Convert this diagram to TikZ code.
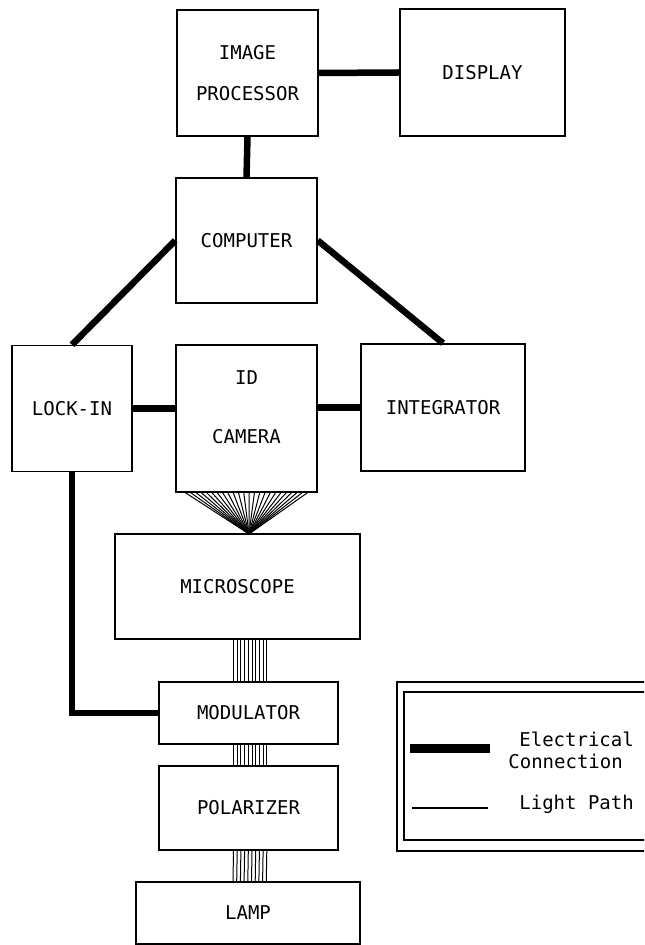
\documentclass[tikz,border=0pt]{standalone}
\usepackage{fontspec}
\setmonofont{DejaVu Sans Mono}
\usetikzlibrary{calc,positioning}

\begin{document}
\begin{tikzpicture}[x=0.5pt,y=-0.5pt]
		\tikzstyle{Block}	= [rectangle, draw, line width=0.75pt, inner sep=0pt, font=\ttfamily\fontsize{9.5}{11}\selectfont, align=center]
		\tikzstyle{Label}	= [inner sep=0pt, font=\ttfamily\fontsize{9.5}{11}\selectfont, align=center]
		\tikzstyle{Wire}	= [line width=3.25pt]
		\tikzstyle{Ray}		= [line width=0.5pt]

		\clip (0,0) rectangle (644,945);

		\node (improc) at (247.5,73) [Block, minimum width=70.5pt, minimum height=63pt] {IMAGE\\[9.5pt]PROCESSOR};
		\node (display) at (482.5,72.5) [Block, minimum width=82.5pt, minimum height=63.5pt] {DISPLAY};
		\node (computer) at (246.5,240.5) [Block, minimum width=70.5pt, minimum height=62.5pt] {COMPUTER};
		\node (lockin) at (72,408.5) [Block, minimum width=60pt, minimum height=63pt] {LOCK-IN};
		\node (camera) at (246.5,418.5) [Block, minimum width=70.5pt, minimum height=73.5pt] {};
		\node (cameraText) at (246.5,407.5) [Label] {ID\\[18.5pt]CAMERA};
		\node (integrator) at (443,407.5) [Block, minimum width=82pt, minimum height=63.5pt] {INTEGRATOR};
		\node (microscope) at (237.5,586.5) [Block, minimum width=122.5pt, minimum height=52.5pt] {MICROSCOPE};
		\node (modulator) at (248.5,713) [Block, minimum width=89.5pt, minimum height=31pt] {MODULATOR};
		\node (polarizer) at (248.5,808) [Block, minimum width=89.5pt, minimum height=42pt] {POLARIZER};
		\node (lamp) at (248,913) [Block, minimum width=112pt, minimum height=31pt] {LAMP};

		% electrical connections
		\draw [-] (improc.east) to (display.west) [Wire];
		\draw [-] (improc.south) to (computer.north) [Wire];
		\draw [-] (computer.west) to (lockin.north) [Wire];
		\draw [-] (computer.east) to (integrator.north) [Wire];
		\draw [-] (lockin.east) to (lockin.east -| camera.west) [Wire];
		\draw [-] (camera.east |- integrator.west) to (integrator.west) [Wire];
		\draw [-] (lockin.south) |- (modulator.west) [Wire];

		% light path
		\coordinate (focus) at (249,534);
		\foreach \i [evaluate=\i as \x using -61+5.3*\i] in {0,...,23}
			\draw [-] ($(camera.south)+(\x,0)$) to (focus) [Ray];
		\foreach \i [evaluate=\i as \x using -15+3.7*\i] in {0,...,9} {
			\draw [-] ($(microscope.south -| modulator.north)+(\x,0)$) to ($(modulator.north)+(\x,0)$) [Ray];
			\draw [-] ($(modulator.south)+(\x,0)$) to ($(polarizer.north)+(\x,0)$) [Ray];
			\draw [-] ($(polarizer.south)+(\x,0)$) to ($(lamp.north)+(\x,0)$) [Ray];
		}

		% legend
		\draw [line width=0.75pt] (397,682) rectangle (660,851);
		\draw [line width=0.75pt] (404,692) rectangle (660,840);
		\coordinate (elecA) at (410,748);
		\coordinate (elecB) at (490,748);
		\coordinate (rayA) at (412,808);
		\coordinate (rayB) at (488,808);
		\draw [-] (elecA) to (elecB) [line width=4.5pt];
		\draw [-] (rayA) to (rayB) [line width=0.75pt];
		\node (elecText) at (519,746) [Label, anchor=base west] {Electrical};
		\node (connText) at (508,768) [Label, anchor=base west] {Connection};
		\node (rayText) at (519,809) [Label, anchor=base west] {Light Path};
	\end{tikzpicture}
\end{document}
